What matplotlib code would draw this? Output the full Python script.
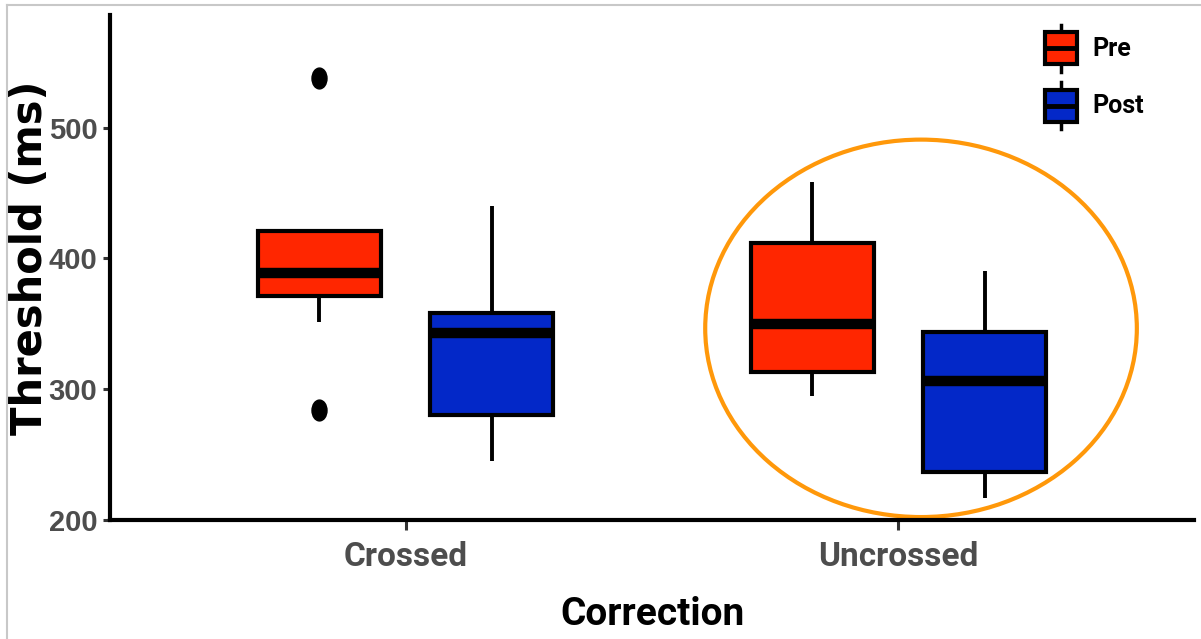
import matplotlib
matplotlib.use("Agg")
import matplotlib.pyplot as plt
from matplotlib.patches import Rectangle, Ellipse, Patch
from matplotlib.lines import Line2D
from matplotlib.legend_handler import HandlerBase
from matplotlib.path import Path
from matplotlib.transforms import Affine2D

# ---------------- data ----------------
categories = ["Crossed", "Uncrossed"]
groups = ["Pre", "Post"]
group_colors = ["#FF2600", "#0328C8"]

# per box: [Crossed-Pre, Crossed-Post, Uncrossed-Pre, Uncrossed-Post]
whisker_low = [351, 245, 295, 217]
q1_values = [371, 280, 313, 237]
medians = [389, 343, 350, 306]
q3_values = [421, 358, 412, 344]
whisker_high = [421, 440, 458, 390]
outliers = [[538, 284], [], [], []]

y_ticks = [200, 300, 400, 500]
x_label = "Correction"
y_label = "Threshold (ms)"

# ---------------- fonts ----------------
narrow = ["Roboto", "DejaVu Sans"]
regular = ["Liberation Sans", "DejaVu Sans"]
wide = ["DejaVu Sans"]

fig = plt.figure(figsize=(12.01, 6.39), dpi=100)
ax = fig.add_axes([110 / 1201, 1 - 520 / 639, 1084 / 1201, 505 / 639])

# positions via dodge
offset = 0.175
positions = []
colors = []
for ci, _ in enumerate(categories):
    for gi, _ in enumerate(groups):
        positions.append(ci + 1 + (gi - 0.5) * 2 * offset)
        colors.append(group_colors[gi])

stats = []
for i in range(len(positions)):
    stats.append(dict(med=medians[i], q1=q1_values[i], q3=q3_values[i],
                      whislo=whisker_low[i], whishi=whisker_high[i],
                      fliers=outliers[i]))

ell_path = Path.unit_circle().transformed(Affine2D().scale(0.72, 1.0))

bp = ax.bxp(stats, positions=positions, widths=0.25, patch_artist=True,
            showcaps=False, manage_ticks=False,
            boxprops=dict(edgecolor="black", linewidth=3.0),
            whiskerprops=dict(color="black", linewidth=2.8, solid_capstyle="butt"),
            medianprops=dict(color="black", linewidth=7.5, solid_capstyle="butt"),
            flierprops=dict(marker=ell_path, markersize=15, markerfacecolor="black",
                            markeredgecolor="black", linestyle="none"))
for patch, c in zip(bp["boxes"], colors):
    patch.set_facecolor(c)

# highlight ellipse around Uncrossed
ax.add_patch(Ellipse((2.046, 346.5), 0.876, 288.5, fill=False,
                     edgecolor="#FF980A", linewidth=3.0, zorder=1))

ax.set_xlim(0.4, 2.6)
ax.set_ylim(200, 586)
ax.set_xticks([1, 2])
ax.set_xticklabels(categories)
ax.set_yticks(y_ticks)

for s in ["top", "right"]:
    ax.spines[s].set_visible(False)
for s in ["left", "bottom"]:
    ax.spines[s].set_linewidth(3.0)
    ax.spines[s].set_color("black")

ax.tick_params(axis="y", length=5, width=2.2, color="#333333", pad=4)
ax.tick_params(axis="x", length=7, width=2.2, color="#333333", pad=8)
for lab in ax.get_yticklabels():
    lab.set_fontfamily(regular)
    lab.set_fontweight("bold")
    lab.set_fontsize(21)
    lab.set_color("#4D4D4D")
for lab in ax.get_xticklabels():
    lab.set_fontfamily(narrow)
    lab.set_fontweight("bold")
    lab.set_fontsize(24)
    lab.set_color("#4D4D4D")

ax.set_ylabel(y_label, fontsize=30, fontweight="bold", family=wide, color="black")
ax.yaxis.set_label_coords(-0.054, 0.52)
ax.set_xlabel(x_label, fontsize=28, fontweight="bold", family=narrow, color="black",
              labelpad=17)


# ---------------- legend with boxplot glyphs ----------------
class BoxHandler(HandlerBase):
    def create_artists(self, legend, orig_handle, xdescent, ydescent,
                       width, height, fontsize, trans):
        cx = -xdescent + width / 2
        cy = -ydescent + height / 2
        bh = height * 0.68
        whisk = Line2D([cx, cx], [-ydescent, -ydescent + height], color="black",
                       linewidth=2.5, transform=trans)
        box = Rectangle((-xdescent, cy - bh / 2), width, bh,
                        facecolor=orig_handle.get_facecolor(), edgecolor="black",
                        linewidth=3.0, transform=trans)
        med = Line2D([-xdescent, -xdescent + width], [cy, cy], color="black",
                     linewidth=3.5, transform=trans, solid_capstyle="butt")
        return [whisk, box, med]


handles = [Patch(facecolor=c) for c in group_colors]
leg = ax.legend(handles, groups, handler_map={Patch: BoxHandler()},
                loc="upper left", bbox_to_anchor=(1045 / 1201, 1 - 25 / 639),
                bbox_transform=fig.transFigure, frameon=False,
                prop=dict(family=narrow, weight="bold", size=18),
                handlelength=1.28, handleheight=2.5, labelspacing=0.42,
                handletextpad=0.6, borderpad=0, borderaxespad=0)

# figure border (top and left, grey)
fig.add_artist(Line2D([7 / 1201, 1.0], [1 - 5 / 639, 1 - 5 / 639],
                      transform=fig.transFigure, color="#C8C8C8", linewidth=1.5))
fig.add_artist(Line2D([7 / 1201, 7 / 1201], [0, 1 - 5 / 639],
                      transform=fig.transFigure, color="#C8C8C8", linewidth=1.5))

fig.savefig("out.png", dpi=100)
